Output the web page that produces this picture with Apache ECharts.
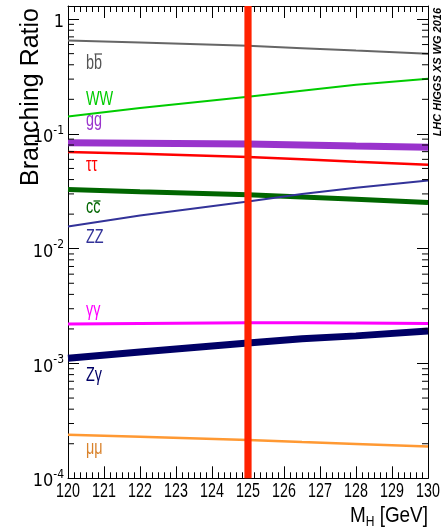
<!DOCTYPE html>
<html>
<head>
<meta charset="utf-8">
<script src="https://cdn.jsdelivr.net/npm/echarts@6/dist/echarts.min.js"></script>
<style>
  html, body { margin: 0; padding: 0; background: #ffffff; }
  #chart { width: 441px; height: 531px; }
</style>
</head>
<body>
<div id="chart"></div>
<script>
// Higgs boson branching ratios versus mass (LHC Higgs XS WG, 2016)
const massGeV   = [120, 122, 125, 126.5, 128, 130];
const brBB      = [0.651, 0.625, 0.585, 0.558, 0.532, 0.500];
const brWW      = [0.142, 0.168, 0.211, 0.238, 0.268, 0.302];
const brGG      = [0.0836, 0.0830, 0.0815, 0.0800, 0.0783, 0.0765];
const brTauTau  = [0.0697, 0.0671, 0.0628, 0.0601, 0.0573, 0.0539];
const brCC      = [0.0328, 0.0313, 0.0295, 0.0282, 0.0270, 0.0253];
const brZZ      = [0.0156, 0.0195, 0.0258, 0.0299, 0.0339, 0.0393];
const brGamGam  = [0.00221, 0.00223, 0.00226, 0.00226, 0.00225, 0.00223];
const brZGam    = [0.00111, 0.00126, 0.00151, 0.00164, 0.00174, 0.00192];
const brMuMu    = [0.000239, 0.000230, 0.000216, 0.000207, 0.000199, 0.000189];

const higgsMass = 125;
const xTickValues = [120, 121, 122, 123, 124, 125, 126, 127, 128, 129, 130];
const xMin = 120, xMax = 130;
const yMin = 1e-4, yMax = 1.3;
const yDecades = [1e-4, 1e-3, 1e-2, 1e-1, 1];
const yMinorMultipliers = [2, 3, 4, 5, 6, 7, 8, 9];

const COND = '"DejaVu Sans Condensed", "Liberation Sans", sans-serif';
const SANS = '"Liberation Sans", Arial, sans-serif';

const channels = [
  { name: 'bb',     values: brBB,     color: '#666666', width: 2 },
  { name: 'WW',     values: brWW,     color: '#00cc00', width: 2 },
  { name: 'gg',     values: brGG,     color: '#9933cc', width: 7 },
  { name: 'tautau', values: brTauTau, color: '#ff0000', width: 2.5 },
  { name: 'cc',     values: brCC,     color: '#006600', width: 5 },
  { name: 'ZZ',     values: brZZ,     color: '#333399', width: 2 },
  { name: 'gamgam', values: brGamGam, color: '#ff00ff', width: 3 },
  { name: 'Zgam',   values: brZGam,   color: '#000066', width: 7 },
  { name: 'mumu',   values: brMuMu,   color: '#ff9933', width: 2.5 }
];

const lineSeries = channels.map(c => ({
  type: 'line',
  name: c.name,
  data: massGeV.map((m, i) => [m, c.values[i]]),
  symbol: 'none',
  smooth: false,
  silent: true,
  z: 2,
  lineStyle: { color: c.color, width: c.width }
}));

// log-axis minor ticks at 2..9 x each decade, on both the left and right frame
const minorTickValues = [];
yDecades.slice(0, -1).forEach(d => yMinorMultipliers.forEach(k => minorTickValues.push([xMin, k * d])));

const minorTickSeries = {
  type: 'custom',
  name: 'yMinorTicks',
  silent: true,
  z: 3,
  data: minorTickValues,
  renderItem: (params, api) => {
    const v = api.value(1);
    const l = api.coord([xMin, v]);
    const r = api.coord([xMax, v]);
    return {
      type: 'group',
      children: [
        { type: 'line', shape: { x1: l[0], y1: l[1], x2: l[0] + 6, y2: l[1] }, style: { stroke: '#000', lineWidth: 1 } },
        { type: 'line', shape: { x1: r[0] - 6, y1: r[1], x2: r[0], y2: r[1] }, style: { stroke: '#000', lineWidth: 1 } }
      ]
    };
  }
};

// mass tick labels, set in a compressed face under the bottom axis
const xLabelSeries = {
  type: 'custom',
  name: 'xTickLabels',
  silent: true,
  z: 3,
  data: xTickValues.map(m => [m, yMin]),
  renderItem: (params, api) => {
    const p = api.coord([api.value(0), api.value(1)]);
    return {
      type: 'text', x: p[0], y: p[1] + 12.5, scaleX: 0.68, scaleY: 1,
      style: { text: String(api.value(0)), fill: '#000', fontSize: 21, fontFamily: SANS, align: 'center', verticalAlign: 'middle', textAlign: 'center', textVerticalAlign: 'middle' }
    };
  }
};

// vertical band marking the measured Higgs mass
const higgsBandSeries = {
  type: 'custom',
  name: 'mH',
  silent: true,
  z: 5,
  data: [[higgsMass, yMin]],
  renderItem: (params, api) => {
    const m = api.value(0);
    const a = api.coord([m - 0.1, yMax]);
    const b = api.coord([m + 0.1, yMin]);
    return {
      type: 'rect',
      shape: { x: a[0], y: a[1], width: b[0] - a[0], height: b[1] - a[1] },
      style: { fill: '#ff2200' }
    };
  }
};

function yLabel(v) {
  const e = Math.round(Math.log10(v));
  if (Math.abs(v / Math.pow(10, e) - 1) > 1e-6) return '';
  if (e === 0) return '{b|1}';
  return '{b|10}{s|' + e + '}';
}

const frameLine = { show: true, onZero: false, lineStyle: { color: '#000', width: 1 } };

const curveLabel = (text, color, y) => ({
  type: 'text', x: 86, y: y, z: 10, silent: true, scaleX: 0.72, scaleY: 1,
  style: { text: text, fill: color, fontSize: 20, fontFamily: SANS, align: 'left', verticalAlign: 'middle', textAlign: 'left', textVerticalAlign: 'middle' }
});
const overBar = (x1, x2, y, color) => ({
  type: 'line', z: 10, silent: true,
  shape: { x1: x1, y1: y, x2: x2, y2: y },
  style: { stroke: color, lineWidth: 1.3 }
});

const option = {
  animation: false,
  backgroundColor: '#ffffff',
  textStyle: { fontFamily: SANS },
  grid: { left: 68, right: 13, top: 6, bottom: 52.7, containLabel: false, outerBoundsMode: 'none' },
  xAxis: [
    {
      type: 'value', position: 'bottom', min: xMin, max: xMax, interval: 1,
      axisLine: frameLine,
      axisTick: { show: true, inside: true, length: 12, lineStyle: { color: '#000', width: 1 } },
      minorTick: { show: true, splitNumber: 6, length: 6, lineStyle: { color: '#000', width: 1 } },
      axisLabel: { show: false },
      splitLine: { show: false }, minorSplitLine: { show: false }
    },
    {
      type: 'value', position: 'top', min: xMin, max: xMax, interval: 1,
      axisLine: frameLine,
      axisTick: { show: true, inside: true, length: 12, lineStyle: { color: '#000', width: 1 } },
      minorTick: { show: true, splitNumber: 6, length: 6, lineStyle: { color: '#000', width: 1 } },
      axisLabel: { show: false },
      splitLine: { show: false }
    }
  ],
  yAxis: [
    {
      type: 'log', logBase: 10, position: 'left', min: yMin, max: yMax,
      axisLine: frameLine,
      axisTick: { show: true, inside: true, length: 11, lineStyle: { color: '#000', width: 1 } },
      minorTick: { show: false },
      axisLabel: {
        show: true, margin: 4, color: '#000', formatter: yLabel, padding: [7, 0, 0, 0],
        showMinLabel: true, showMaxLabel: true,
        rich: {
          b: { fontSize: 18, lineHeight: 26, fontFamily: COND, color: '#000' },
          s: { fontSize: 12, lineHeight: 12, verticalAlign: 'top', fontFamily: COND, color: '#000' }
        }
      },
      splitLine: { show: false }
    },
    {
      type: 'log', logBase: 10, position: 'right', min: yMin, max: yMax,
      axisLine: frameLine,
      axisTick: { show: true, inside: true, length: 11, lineStyle: { color: '#000', width: 1 } },
      minorTick: { show: false },
      axisLabel: { show: false },
      splitLine: { show: false }
    }
  ],
  series: lineSeries.concat([minorTickSeries, xLabelSeries, higgsBandSeries]),
  graphic: [
    curveLabel('bb', '#555555', 63),
    overBar(94.5, 102, 54, '#555555'),
    curveLabel('WW', '#00cc00', 99),
    curveLabel('gg', '#9933cc', 120),
    curveLabel('\u03c4\u03c4', '#ff0000', 165),
    curveLabel('cc', '#006600', 207),
    overBar(93.5, 100.5, 201, '#006600'),
    curveLabel('ZZ', '#333399', 237),
    curveLabel('\u03b3\u03b3', '#ff00ff', 310),
    curveLabel('Z\u03b3', '#000066', 375),
    curveLabel('\u03bc\u03bc', '#d9822b', 448),
    {
      type: 'text', x: 31, y: 8, rotation: Math.PI / 2, z: 10, silent: true,
      style: { text: 'Branching Ratio', fill: '#000', fontSize: 25, fontFamily: SANS, align: 'right', verticalAlign: 'middle', textAlign: 'right', textVerticalAlign: 'middle' }
    },
    {
      type: 'text', x: 437.5, y: 8, rotation: Math.PI / 2, z: 10, silent: true,
      style: { text: 'LHC HIGGS XS WG 2016', fill: '#000', fontSize: 11, fontWeight: 'bold', fontStyle: 'italic', fontFamily: SANS, align: 'right', verticalAlign: 'middle', textAlign: 'right', textVerticalAlign: 'middle' }
    },
    {
      type: 'text', x: 428, y: 516, z: 10, silent: true, scaleX: 0.86, scaleY: 1,
      style: {
        text: '{m|M}{h|H}{m| [GeV]}', fill: '#000', align: 'right', verticalAlign: 'middle', textAlign: 'right', textVerticalAlign: 'middle',
        rich: {
          m: { fontSize: 22, lineHeight: 26, fontFamily: SANS, color: '#000' },
          h: { fontSize: 14, lineHeight: 14, verticalAlign: 'bottom', fontFamily: SANS, color: '#000' }
        }
      }
    }
  ]
};

const chart = echarts.init(document.getElementById('chart'), null, { renderer: 'canvas' });
chart.setOption(option);
</script>
</body>
</html>
